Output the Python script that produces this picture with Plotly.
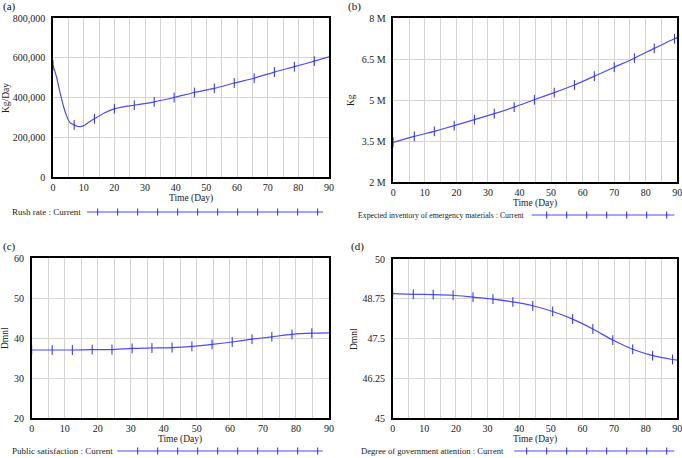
import plotly.graph_objects as go

W, H = 682, 458

# ---------------- data ----------------
# (a) Rush rate (Kg/Day)
t_a = [0, 1.2, 2.3, 3.4, 4.5, 5.5, 6.9, 8.2, 9.9, 11.5, 13.5, 16.7, 20, 23, 26.5, 33, 39.5,
       46.1, 52.6, 59.1, 65.6, 72.2, 78.7, 85.2, 90]
v_a = [562000, 500000, 424000, 356000, 305000, 274000, 262000, 254000, 257000, 274000, 293000,
       322000, 343000, 353000, 361000, 378000, 400000, 425000, 446000, 473000, 497000, 528000,
       555000, 583000, 605000]
mk_a = [0, 6, 10, 12, 14, 15, 16, 17, 18, 19, 20, 21, 22, 23]

# (b) Expected inventory of emergency materials (Kg)
t_b = [0, 6.65, 13, 19.3, 25.7, 32, 38.3, 44.7, 51, 57.4, 63.7, 70, 76.4, 82.7, 89.1, 90]
v_b = [3.45e6, 3.67e6, 3.855e6, 4.06e6, 4.28e6, 4.5e6, 4.74e6, 5.01e6, 5.27e6, 5.55e6,
       5.87e6, 6.2e6, 6.53e6, 6.89e6, 7.24e6, 7.28e6]
mk_b = list(range(15))

# (c) Public satisfaction (Dmnl)
t_c = [0, 6.2, 12.3, 18.3, 24.3, 30.4, 36.4, 42.5, 48.5, 54.6, 60.7, 66.7, 72.7, 78.8, 84.8, 90]
v_c = [37.0, 37.0, 37.0, 37.1, 37.1, 37.4, 37.5, 37.6, 37.9, 38.4, 39.0, 39.7, 40.3, 40.9, 41.2, 41.3]
mk_c = list(range(15))

# (d) Degree of government attention (Dmnl)
t_d = [0, 6.5, 12.8, 19.1, 25.4, 31.7, 38, 44.3, 50.6, 56.9, 63.3, 69.6, 75.9, 82.2, 88.5, 90]
v_d = [48.91, 48.89, 48.88, 48.86, 48.80, 48.74, 48.65, 48.53, 48.35, 48.11, 47.80, 47.45,
       47.16, 46.96, 46.84, 46.82]
mk_d = list(range(15))

x_ticks = [0, 10, 20, 30, 40, 50, 60, 70, 80, 90]
ytick_a = [0, 200000, 400000, 600000, 800000]
ylab_a = ["0", "200,000", "400,000", "600,000", "800,000"]
ytick_b = [2e6, 3.5e6, 5e6, 6.5e6, 8e6]
ylab_b = ["2 M", "3.5 M", "5 M", "6.5 M", "8 M"]
ytick_c = [20, 30, 40, 50, 60]
ylab_c = ["20", "30", "40", "50", "60"]
ytick_d = [45, 46.25, 47.5, 48.75, 50]
ylab_d = ["45", "46.25", "47.5", "48.75", "50"]

legend_texts = ["Rush rate : Current",
                "Expected inventory of emergency materials : Current",
                "Public satisfaction : Current",
                "Degree of government attention : Current"]
panel_labels = ["(a)", "(b)", "(c)", "(d)"]
y_titles = ["Kg/Day", "Kg", "Dmnl", "Dmnl"]

# ---------------- layout helpers ----------------
FONT = "Liberation Serif"
LINE = "#4b4bff"
MARK = "#2b2bf0"
GRID = "#d4d4d4"


def px(x):
    return x / W


def py(y):
    return 1 - y / H


panels = [
    dict(t=t_a, v=v_a, mk=mk_a, xd=[53, 329], yd=[18, 177], yr=[0, 800000], tv=ytick_a, tl=ylab_a,
         lab=(1, 7), ytit=(6, 98), xt=(191, 198), leg=(10, 212, 87, 323, 97.7, 12), legfs=9),
    dict(t=t_b, v=v_b, mk=mk_b, xd=[393.3, 677.3], yd=[18, 182], yr=[2e6, 8e6], tv=ytick_b, tl=ylab_b,
         lab=(346, 6), ytit=(351, 100), xt=(535, 203), leg=(356, 215, 531.7, 674.3, 546.7, 7), legfs=7.8),
    dict(t=t_c, v=v_c, mk=mk_c, xd=[31.7, 329], yd=[258, 418], yr=[20, 60], tv=ytick_c, tl=ylab_c,
         lab=(1, 246), ytit=(5, 338), xt=(180, 439), leg=(10, 451, 117.3, 322.7, 137.7, 10), legfs=9),
    dict(t=t_d, v=v_d, mk=mk_d, xd=[392.7, 677.3], yd=[259, 418], yr=[45, 50], tv=ytick_d, tl=ylab_d,
         lab=(349, 246), ytit=(354, 339), xt=(535, 439), leg=(359, 451, 514.3, 674.3, 526.7, 8), legfs=8.6),
]

fig = go.Figure()
annotations = []
shapes = []

for i, p in enumerate(panels):
    n = i + 1
    xa = "x" if n == 1 else f"x{n}"
    ya = "y" if n == 1 else f"y{n}"
    fig.add_trace(go.Scatter(x=p["t"], y=p["v"], mode="lines", xaxis=xa, yaxis=ya,
                             line=dict(color=LINE, width=1.2, shape="spline", smoothing=0.6),
                             showlegend=False, hoverinfo="skip"))
    fig.add_trace(go.Scatter(x=[p["t"][k] for k in p["mk"]], y=[p["v"][k] for k in p["mk"]],
                             mode="markers", xaxis=xa, yaxis=ya,
                             marker=dict(symbol="line-ns", size=7, line=dict(color=MARK, width=1)),
                             showlegend=False, hoverinfo="skip"))
    axkey = "xaxis" if n == 1 else f"xaxis{n}"
    aykey = "yaxis" if n == 1 else f"yaxis{n}"
    fig.layout[axkey] = dict(
        domain=[px(p["xd"][0]), px(p["xd"][1])], range=[0, 90], anchor=ya, automargin=False,
        tickvals=x_ticks, showgrid=True, gridcolor=GRID, gridwidth=1, ticklabeloverflow="allow",
        minor=dict(dtick=5, tick0=0, showgrid=True, gridcolor=GRID, gridwidth=1),
        showline=True, mirror=True, linecolor="black", linewidth=1.5, zeroline=False,
        ticks="", ticklabelstandoff=0, tickfont=dict(family=FONT, size=10, color="#222"))
    fig.layout[aykey] = dict(
        domain=[py(p["yd"][1]), py(p["yd"][0])], range=p["yr"], anchor=xa, automargin=False,
        tickvals=p["tv"], ticktext=p["tl"], showgrid=True, gridcolor=GRID, gridwidth=1,
        ticklabeloverflow="allow",
        showline=True, mirror=True, linecolor="black", linewidth=1.5, zeroline=False,
        ticks="", ticklabelstandoff=4, tickfont=dict(family=FONT, size=10, color="#222"))

    # panel label
    annotations.append(dict(text=panel_labels[i], x=px(p["lab"][0]), y=py(p["lab"][1]),
                            xref="paper", yref="paper", xanchor="left", yanchor="middle",
                            showarrow=False, font=dict(family=FONT, size=11, color="#111")))
    # y title
    annotations.append(dict(text=y_titles[i], x=px(p["ytit"][0]), y=py(p["ytit"][1]),
                            xref="paper", yref="paper", xanchor="center", yanchor="middle",
                            textangle=-90, showarrow=False,
                            font=dict(family=FONT, size=9.5, color="#222")))
    # x title
    annotations.append(dict(text="Time (Day)", x=px(p["xt"][0]), y=py(p["xt"][1]),
                            xref="paper", yref="paper", xanchor="center", yanchor="middle",
                            showarrow=False, font=dict(family=FONT, size=9.5, color="#222")))
    # legend sample
    lx, ly, l0, l1, m0, nm = p["leg"]
    annotations.append(dict(text=legend_texts[i], x=px(lx), y=py(ly),
                            xref="paper", yref="paper", xanchor="left", yanchor="middle",
                            showarrow=False, font=dict(family=FONT, size=p["legfs"], color="#222")))
    shapes.append(dict(type="line", xref="paper", yref="paper", x0=px(l0), x1=px(l1),
                       y0=py(ly), y1=py(ly), line=dict(color=LINE, width=1.2)))
    for k in range(nm):
        xx = m0 + 20 * k
        shapes.append(dict(type="line", xref="paper", yref="paper", x0=px(xx), x1=px(xx),
                           y0=py(ly - 3.5), y1=py(ly + 3.5), line=dict(color=MARK, width=1)))

fig.update_layout(width=W, height=H, margin=dict(l=0, r=0, t=0, b=0, autoexpand=False),
                  paper_bgcolor="white", plot_bgcolor="white",
                  annotations=annotations, shapes=shapes, showlegend=False,
                  font=dict(family=FONT))

fig.write_html("out.html", config={"displayModeBar": False},
               post_script="document.body.style.margin='0';document.body.style.overflow='hidden';")
